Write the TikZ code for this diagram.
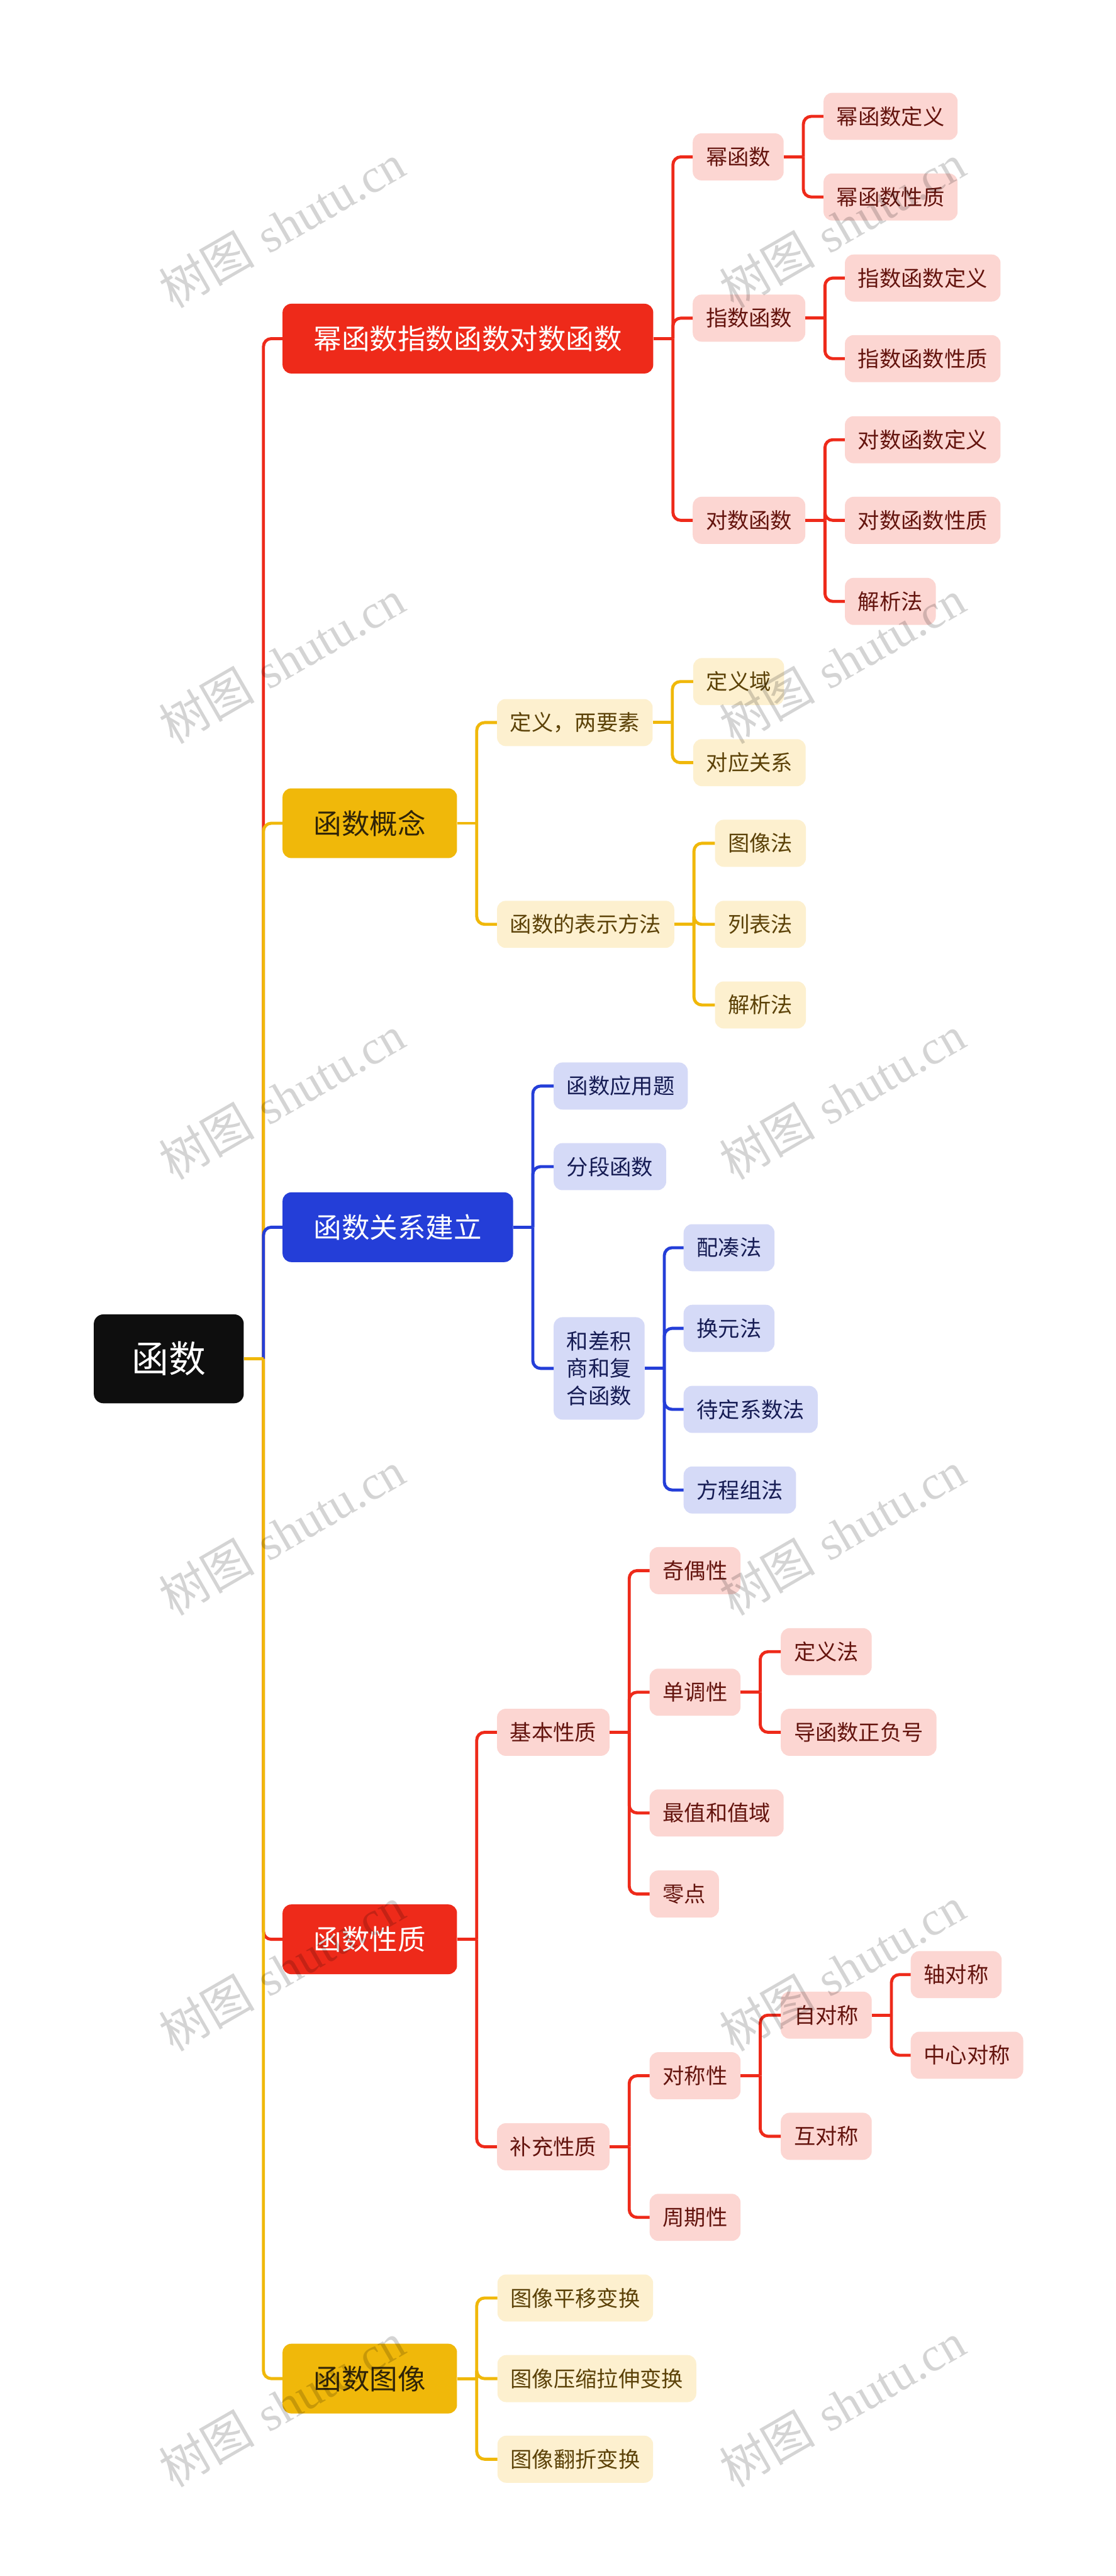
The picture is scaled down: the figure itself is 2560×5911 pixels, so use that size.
\documentclass[tikz,border=0pt]{standalone}
\usepackage{fontspec}
\newfontfamily\cjk{Noto Sans CJK SC}
\newfontfamily\wmlat{Liberation Serif}
\usetikzlibrary{calc}
\definecolor{redM}{RGB}{238,42,26}
\definecolor{redL}{RGB}{252,214,210}
\definecolor{redT}{RGB}{100,20,14}
\definecolor{yelM}{RGB}{240,184,10}
\definecolor{yelL}{RGB}{253,240,207}
\definecolor{yelT}{RGB}{92,66,8}
\definecolor{yelD}{RGB}{48,36,8}
\definecolor{bluM}{RGB}{36,62,216}
\definecolor{bluL}{RGB}{213,218,247}
\definecolor{bluT}{RGB}{22,28,84}
\definecolor{rootC}{RGB}{14,14,14}
\tikzset{
  subbox/.style={rounded corners=20pt, inner xsep=30pt, inner ysep=0pt,
    minimum height=108pt, font=\cjk\fontsize{49.5}{63}\selectfont, anchor=west},
  rsub/.style={subbox, fill=redL, text=redT},
  ysub/.style={subbox, fill=yelL, text=yelT},
  bsub/.style={subbox, fill=bluL, text=bluT},
  mainbox/.style={rounded corners=20pt, inner xsep=71.5pt, inner ysep=0pt,
    minimum height=160pt, font=\cjk\fontsize{64.3}{70}\selectfont, anchor=west},
  rootbox/.style={rounded corners=22pt, inner xsep=87pt, inner ysep=0pt,
    minimum height=204pt, font=\cjk\fontsize{85}{90}\selectfont, anchor=west,
    fill=rootC, text=white},
  conn/.style={line width=7pt, rounded corners=18pt},
  wm/.style={rotate=30, text=black, opacity=0.17,
    font=\fontsize{110}{110}\selectfont}
}
\begin{document}
\begin{tikzpicture}[x=1pt,y=-1pt]
\fill[white] (0,0) rectangle (2560,5911);
\useasboundingbox (0,0) rectangle (2560,5911);

% root
\node[rootbox] (rt) at (215,3118) {函数};
% level 1
\node[mainbox, fill=redM, text=white] (n1) at (648,777) {幂函数指数函数对数函数};
\node[mainbox, fill=yelM, text=yelD] (n2) at (648,1889) {函数概念};
\node[mainbox, fill=bluM, text=white] (n3) at (648,2816) {函数关系建立};
\node[mainbox, fill=redM, text=white] (n4) at (648,4450) {函数性质};
\node[mainbox, fill=yelM, text=yelD] (n5) at (648,5458) {函数图像};

% branch 1
\node[rsub] (a1) at (1589,360) {幂函数};
\node[rsub] (a2) at (1589,730) {指数函数};
\node[rsub] (a3) at (1589,1194) {对数函数};
\node[rsub] (a11) at (1889,267) {幂函数定义};
\node[rsub] (a12) at (1889,452) {幂函数性质};
\node[rsub] (a21) at (1938,638) {指数函数定义};
\node[rsub] (a22) at (1938,823) {指数函数性质};
\node[rsub] (a31) at (1938,1009) {对数函数定义};
\node[rsub] (a32) at (1938,1194) {对数函数性质};
\node[rsub] (a33) at (1938,1380) {解析法};

% branch 2
\node[ysub] (b1) at (1140,1658) {定义，两要素};
\node[ysub] (b2) at (1140,2121) {函数的表示方法};
\node[ysub] (b11) at (1590,1564) {定义域};
\node[ysub] (b12) at (1590,1750) {对应关系};
\node[ysub] (b21) at (1640,1935) {图像法};
\node[ysub] (b22) at (1640,2121) {列表法};
\node[ysub] (b23) at (1640,2306) {解析法};

% branch 3
\node[bsub] (c1) at (1270,2492) {函数应用题};
\node[bsub] (c2) at (1270,2677) {分段函数};
\node[bsub, align=center, minimum height=235pt] (c3) at (1270,3140) {和差积\\商和复\\合函数};
\node[bsub] (c31) at (1568,2863) {配凑法};
\node[bsub] (c32) at (1568,3048) {换元法};
\node[bsub] (c33) at (1568,3234) {待定系数法};
\node[bsub] (c34) at (1568,3419) {方程组法};

% branch 4
\node[rsub] (d1) at (1140,3975) {基本性质};
\node[rsub] (d2) at (1140,4926) {补充性质};
\node[rsub] (d11) at (1490,3604) {奇偶性};
\node[rsub] (d12) at (1490,3883) {单调性};
\node[rsub] (d13) at (1490,4160) {最值和值域};
\node[rsub] (d14) at (1490,4346) {零点};
\node[rsub] (d121) at (1791,3790) {定义法};
\node[rsub] (d122) at (1791,3975) {导函数正负号};
\node[rsub] (d21) at (1490,4763) {对称性};
\node[rsub] (d22) at (1490,5088) {周期性};
\node[rsub] (d211) at (1791,4624) {自对称};
\node[rsub] (d212) at (1791,4902) {互对称};
\node[rsub] (d2111) at (2089,4531) {轴对称};
\node[rsub] (d2112) at (2089,4716) {中心对称};

% branch 5
\node[ysub] (e1) at (1141,5273) {图像平移变换};
\node[ysub] (e2) at (1141,5458) {图像压缩拉伸变换};
\node[ysub] (e3) at (1141,5643) {图像翻折变换};

% junctions
\foreach \p in {rt,n1,n2,n3,n4,n5,a1,a2,a3,b1,b2,c3,d1,d2,d12,d21,d211}
  \coordinate (j\p) at ([xshift=45pt]\p.east);

% root connectors
\draw[conn, redM] (jrt) |- (n1.west);
\draw[conn, yelM] (jrt) |- (n2.west);
\draw[conn, bluM] (jrt) |- (n3.west);
\draw[conn, redM] (jrt) |- (n4.west);
\draw[conn, yelM] (jrt) |- (n5.west);
\draw[conn, yelM] (rt.east) -- (jrt);

% branch 1 connectors
\begin{scope}[redM]
\draw[conn] (n1.east) -- (jn1);
\foreach \c in {a1,a2,a3} \draw[conn] (jn1) |- (\c.west);
\draw[conn] (a1.east) -- (ja1);
\foreach \c in {a11,a12} \draw[conn] (ja1) |- (\c.west);
\draw[conn] (a2.east) -- (ja2);
\foreach \c in {a21,a22} \draw[conn] (ja2) |- (\c.west);
\draw[conn] (a3.east) -- (ja3);
\foreach \c in {a31,a32,a33} \draw[conn] (ja3) |- (\c.west);
\end{scope}

% branch 2 connectors
\begin{scope}[yelM]
\draw[conn] (n2.east) -- (jn2);
\foreach \c in {b1,b2} \draw[conn] (jn2) |- (\c.west);
\draw[conn] (b1.east) -- (jb1);
\foreach \c in {b11,b12} \draw[conn] (jb1) |- (\c.west);
\draw[conn] (b2.east) -- (jb2);
\foreach \c in {b21,b22,b23} \draw[conn] (jb2) |- (\c.west);
\end{scope}

% branch 3 connectors
\begin{scope}[bluM]
\draw[conn] (n3.east) -- (jn3);
\foreach \c in {c1,c2,c3} \draw[conn] (jn3) |- (\c.west);
\draw[conn] (c3.east) -- (jc3);
\foreach \c in {c31,c32,c33,c34} \draw[conn] (jc3) |- (\c.west);
\end{scope}

% branch 4 connectors
\begin{scope}[redM]
\draw[conn] (n4.east) -- (jn4);
\foreach \c in {d1,d2} \draw[conn] (jn4) |- (\c.west);
\draw[conn] (d1.east) -- (jd1);
\foreach \c in {d11,d12,d13,d14} \draw[conn] (jd1) |- (\c.west);
\draw[conn] (d12.east) -- (jd12);
\foreach \c in {d121,d122} \draw[conn] (jd12) |- (\c.west);
\draw[conn] (d2.east) -- (jd2);
\foreach \c in {d21,d22} \draw[conn] (jd2) |- (\c.west);
\draw[conn] (d21.east) -- (jd21);
\foreach \c in {d211,d212} \draw[conn] (jd21) |- (\c.west);
\draw[conn] (d211.east) -- (jd211);
\foreach \c in {d2111,d2112} \draw[conn] (jd211) |- (\c.west);
\end{scope}

% branch 5 connectors
\begin{scope}[yelM]
\draw[conn] (n5.east) -- (jn5);
\foreach \c in {e1,e2,e3} \draw[conn] (jn5) |- (\c.west);
\end{scope}

% watermarks
\foreach \yy [count=\k] in {518,1518,2518,3518,4518,5518} {
  \node[wm] (wl\k) at (647,\yy) {{\cjk 树图} {\wmlat shutu.cn}};
  \node[wm] (wr\k) at (1932,\yy) {{\cjk 树图} {\wmlat shutu.cn}};
}
\end{tikzpicture}
\end{document}
